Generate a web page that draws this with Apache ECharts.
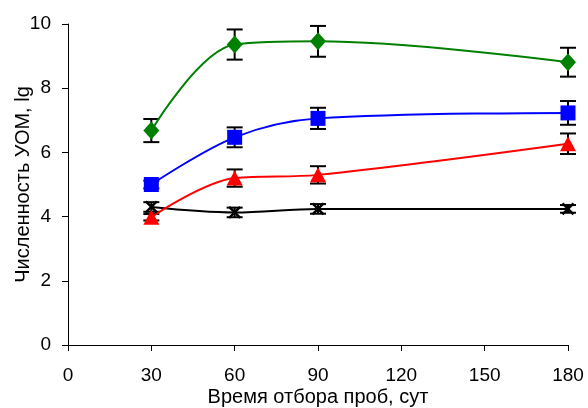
<!DOCTYPE html>
<html><head><meta charset="utf-8">
<script src="https://cdn.jsdelivr.net/npm/echarts@6/dist/echarts.min.js"></script>
<style>html,body{margin:0;padding:0;background:#fff}#c{width:588px;height:408px}</style>
</head><body><div id="c"></div>
<script>
const days = [30, 60, 90, 180];
const xTicks = [0, 30, 60, 90, 120, 150, 180];
const yTicks = [0, 2, 4, 6, 8, 10];
const greenVals = [6.68, 9.36, 9.46, 8.81];
const greenErr  = [0.36, 0.47, 0.48, 0.45];
const blueVals  = [5.0, 6.47, 7.06, 7.23];
const blueErr   = [0.12, 0.31, 0.33, 0.37];
const redVals   = [3.98, 5.2, 5.3, 6.27];
const redErr    = [0.1, 0.27, 0.27, 0.32];
const blackVals = [4.3, 4.13, 4.24, 4.24];
const blackErr  = [0.15, 0.15, 0.15, 0.12];

const FONT = 'Liberation Sans, Arial, sans-serif';
const xPath = 'path://M0,0 L10,10 M10,0 L0,10';

function lineSeries(vals, color, symbol, size, extra) {
  return Object.assign({
    type: 'line', smooth: 0.35, z: 3,
    data: days.map((d, i) => [d, vals[i]]),
    lineStyle: { color: color, width: 2 },
    itemStyle: { color: color },
    symbol: symbol, symbolSize: size, showSymbol: true
  }, extra || {});
}
function errSeries(vals, errs) {
  return {
    type: 'custom', z: 2, silent: true,
    data: days.map((d, i) => [d, vals[i] - errs[i], vals[i] + errs[i]]),
    renderItem: function (params, api) {
      const lo = api.coord([api.value(0), api.value(1)]);
      const hi = api.coord([api.value(0), api.value(2)]);
      const w = 8;
      const st = { stroke: '#000', lineWidth: 2 };
      return { type: 'group', children: [
        { type: 'line', shape: { x1: lo[0], y1: lo[1], x2: hi[0], y2: hi[1] }, style: st },
        { type: 'line', shape: { x1: lo[0]-w, y1: lo[1], x2: lo[0]+w, y2: lo[1] }, style: st },
        { type: 'line', shape: { x1: hi[0]-w, y1: hi[1], x2: hi[0]+w, y2: hi[1] }, style: st }
      ]};
    }
  };
}

const chart = echarts.init(document.getElementById('c'), null, { renderer: 'canvas' });
chart.setOption({
  animation: false,
  grid: { left: 68, right: 20, top: 24, bottom: 63, containLabel: false, outerBoundsMode: 'none' },
  xAxis: {
    type: 'value', min: xTicks[0], max: xTicks[xTicks.length-1], interval: 30,
    name: 'Время отбора проб, сут', nameLocation: 'middle', nameGap: 42, nameMoveOverlap: false,
    nameTextStyle: { fontFamily: FONT, fontSize: 20, color: '#000' },
    axisLine: { onZero: false, lineStyle: { color: '#000', width: 1 } },
    axisTick: { show: true, length: 6, lineStyle: { color: '#000' } },
    axisLabel: { fontFamily: FONT, fontSize: 19, color: '#000', margin: 21 },
    splitLine: { show: false }
  },
  yAxis: {
    type: 'value', min: yTicks[0], max: yTicks[yTicks.length-1], interval: 2,
    name: 'Численность УОМ, lg', nameLocation: 'middle', nameGap: 35, nameRotate: 90, nameMoveOverlap: false,
    nameTextStyle: { fontFamily: FONT, fontSize: 20, color: '#000' },
    axisLine: { show: true, lineStyle: { color: '#000', width: 1 } },
    axisTick: { show: true, length: 6, lineStyle: { color: '#000' } },
    axisLabel: { fontFamily: FONT, fontSize: 19, color: '#000', margin: 17 },
    splitLine: { show: false }
  },
  series: [
    errSeries(greenVals, greenErr),
    errSeries(blueVals, blueErr),
    errSeries(redVals, redErr),
    errSeries(blackVals, blackErr),
    lineSeries(blackVals, '#000000', xPath, [11, 11], { itemStyle: { color: 'none', borderColor: '#000', borderWidth: 2.5 } }),
    lineSeries(redVals, '#ff0000', 'triangle', [16, 15]),
    lineSeries(blueVals, '#0000ff', 'rect', [15, 15]),
    lineSeries(greenVals, '#008000', 'diamond', [16, 18])
  ]
});
</script></body></html>
